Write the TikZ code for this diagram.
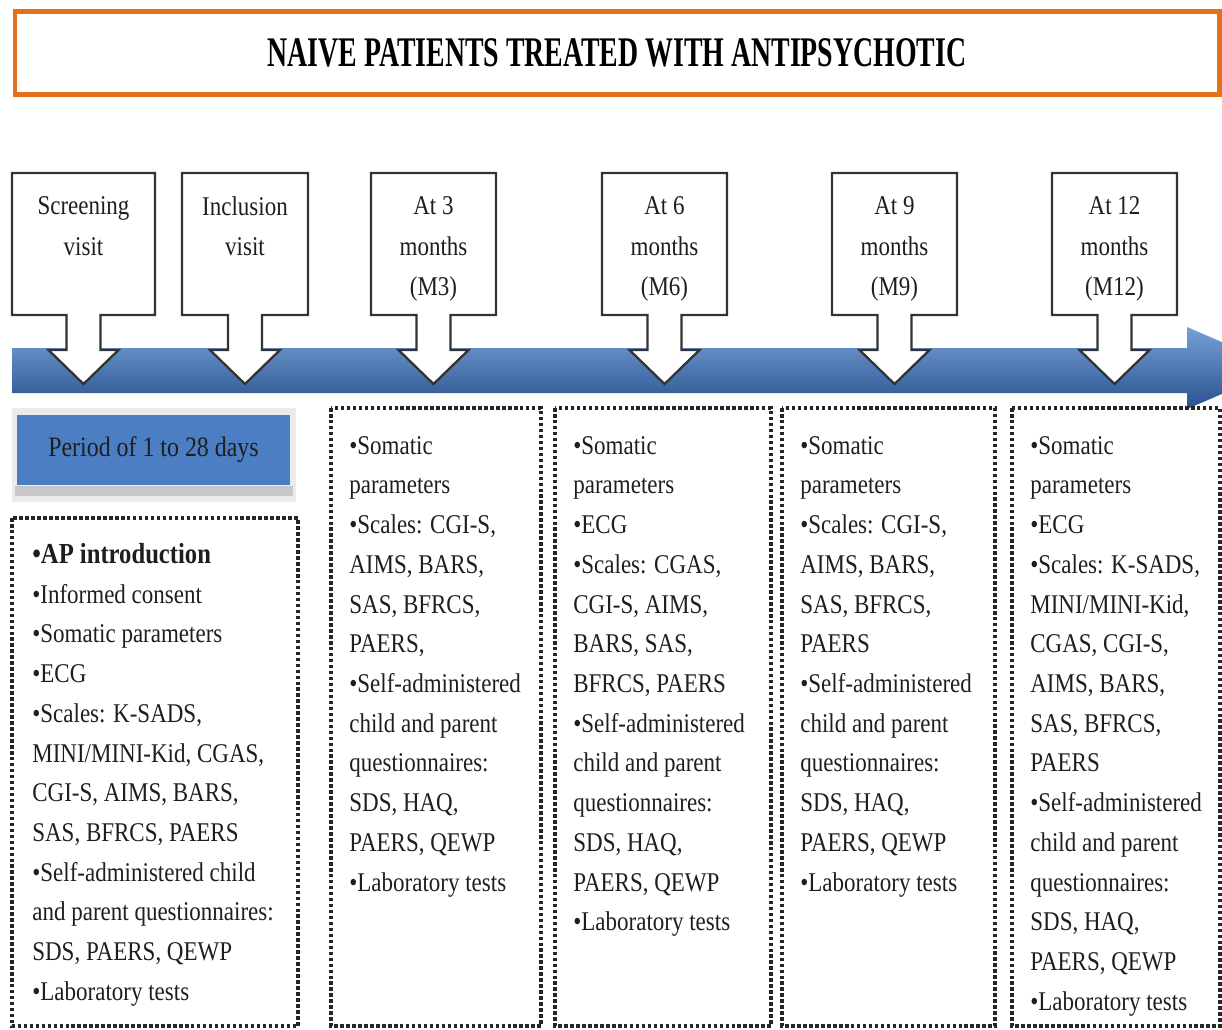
\documentclass[tikz,border=0pt]{standalone}
\usepackage{fontspec}
\setmainfont{Liberation Serif}[FakeStretch=0.85]
\newfontfamily\titlefont{Liberation Serif}[FakeStretch=0.66]
\usetikzlibrary{positioning}
\definecolor{titleorange}{RGB}{230,112,24}
\definecolor{arrowtop}{RGB}{120,160,215}
\definecolor{arrowmid}{RGB}{78,126,196}
\definecolor{arrowbot}{RGB}{40,82,142}
\definecolor{periodblue}{RGB}{76,126,196}
\definecolor{inkgray}{RGB}{30,30,30}
\tikzset{
    callout/.style={draw=black!80, line width=1.3pt, fill=white},
    frame/.style={draw=black!85, line width=2pt, dash pattern=on 2pt off 1.4pt},
    tag/.style={align=center, font=\fontsize{15.4}{23.2}\selectfont, text=inkgray, inner sep=0pt, anchor=north},
    items/.style={align=left, font=\fontsize{15.4}{22.6}\selectfont, text=inkgray, inner sep=0pt, anchor=north west},
}
\begin{document}
\begin{tikzpicture}[x=0.02cm, y=-0.02cm]
    \useasboundingbox (0,0) rectangle (1222,1029);
    % Title
    \node[draw=titleorange, line width=2.4pt, minimum width=24.1cm, minimum height=1.66cm,
        font=\titlefont\bfseries\fontsize{24}{28}\selectfont, text=black] (title) at (617,53)
        {NAIVE PATIENTS TREATED WITH ANTIPSYCHOTIC};
    % Time line
    \begin{scope}
        \clip (0,0) rectangle (1222,1029);
        \shade[top color=arrowtop, middle color=arrowmid, bottom color=arrowbot]
            (12,348) -- (1187,348) -- (1187,327) -- (1282,368) -- (1187,409) -- (1187,393) -- (12,393) -- cycle;
    \end{scope}
    % Visits
    \foreach \n/\l/\r/\t in {scr/12/155/{Screening\\visit}, inc/182/308/{Inclusion\\visit},
        m3/371/496/{At 3\\months\\(M3)}, m6/602/727/{At 6\\months\\(M6)},
        m9/832/957/{At 9\\months\\(M9)}, m12/1052/1177/{At 12\\months\\(M12)}} {
        \pgfmathsetmacro{\c}{(\l+\r)/2}
        \draw[callout] (\l,173) -- (\r,173) -- (\r,315) -- (\c+17,315) -- (\c+17,350) -- (\c+35,350)
            -- (\c,384) -- (\c-35,350) -- (\c-17,350) -- (\c-17,315) -- (\l,315) -- cycle;
        \node[tag] (\n) at (\c,196) {\t};
    }
    % Period
    \fill[black!8] (12,408) rectangle (296,502);
    \fill[black!22] (15,486) rectangle (293,496);
    \node[fill=periodblue, minimum width=5.46cm, minimum height=1.4cm, inner sep=0pt,
        font=\fontsize{16}{20}\selectfont, text=inkgray] (period) at (153.5,450) {Period of 1 to 28 days};
    % Dotted frames
    \draw[frame] (12,518) rectangle (298,1026);
    \foreach \l/\r in {331/541, 555/771, 782/995, 1012/1220}
        \draw[frame] (\l,408) rectangle (\r,1026);
    % Lists
    \node[items] (list0) at (32,543) {\textbf{\fontsize{16.5}{22.6}\selectfont •AP introduction}\\
        •Informed consent\\•Somatic parameters\\•ECG\\•Scales: K-SADS,\\MINI/MINI-Kid, CGAS,\\
        CGI-S, AIMS, BARS,\\SAS, BFRCS, PAERS\\•Self-administered child\\and parent questionnaires:\\
        SDS, PAERS, QEWP\\•Laboratory tests};
    \node[items] (list3) at (349,436) {•Somatic\\parameters\\•Scales: CGI-S,\\AIMS, BARS,\\SAS, BFRCS,\\
        PAERS,\\•Self-administered\\child and parent\\questionnaires:\\SDS, HAQ,\\PAERS, QEWP\\
        •Laboratory tests};
    \node[items] (list6) at (573,436) {•Somatic\\parameters\\•ECG\\•Scales: CGAS,\\CGI-S, AIMS,\\
        BARS, SAS,\\BFRCS, PAERS\\•Self-administered\\child and parent\\questionnaires:\\SDS, HAQ,\\
        PAERS, QEWP\\•Laboratory tests};
    \node[items] (list9) at (800,436) {•Somatic\\parameters\\•Scales: CGI-S,\\AIMS, BARS,\\SAS, BFRCS,\\
        PAERS\\•Self-administered\\child and parent\\questionnaires:\\SDS, HAQ,\\PAERS, QEWP\\
        •Laboratory tests};
    \node[items] (list12) at (1030,436) {•Somatic\\parameters\\•ECG\\•Scales: K-SADS,\\MINI/MINI-Kid,\\
        CGAS, CGI-S,\\AIMS, BARS,\\SAS, BFRCS,\\PAERS\\•Self-administered\\child and parent\\
        questionnaires:\\SDS, HAQ,\\PAERS, QEWP\\•Laboratory tests};
\end{tikzpicture}
\end{document}
